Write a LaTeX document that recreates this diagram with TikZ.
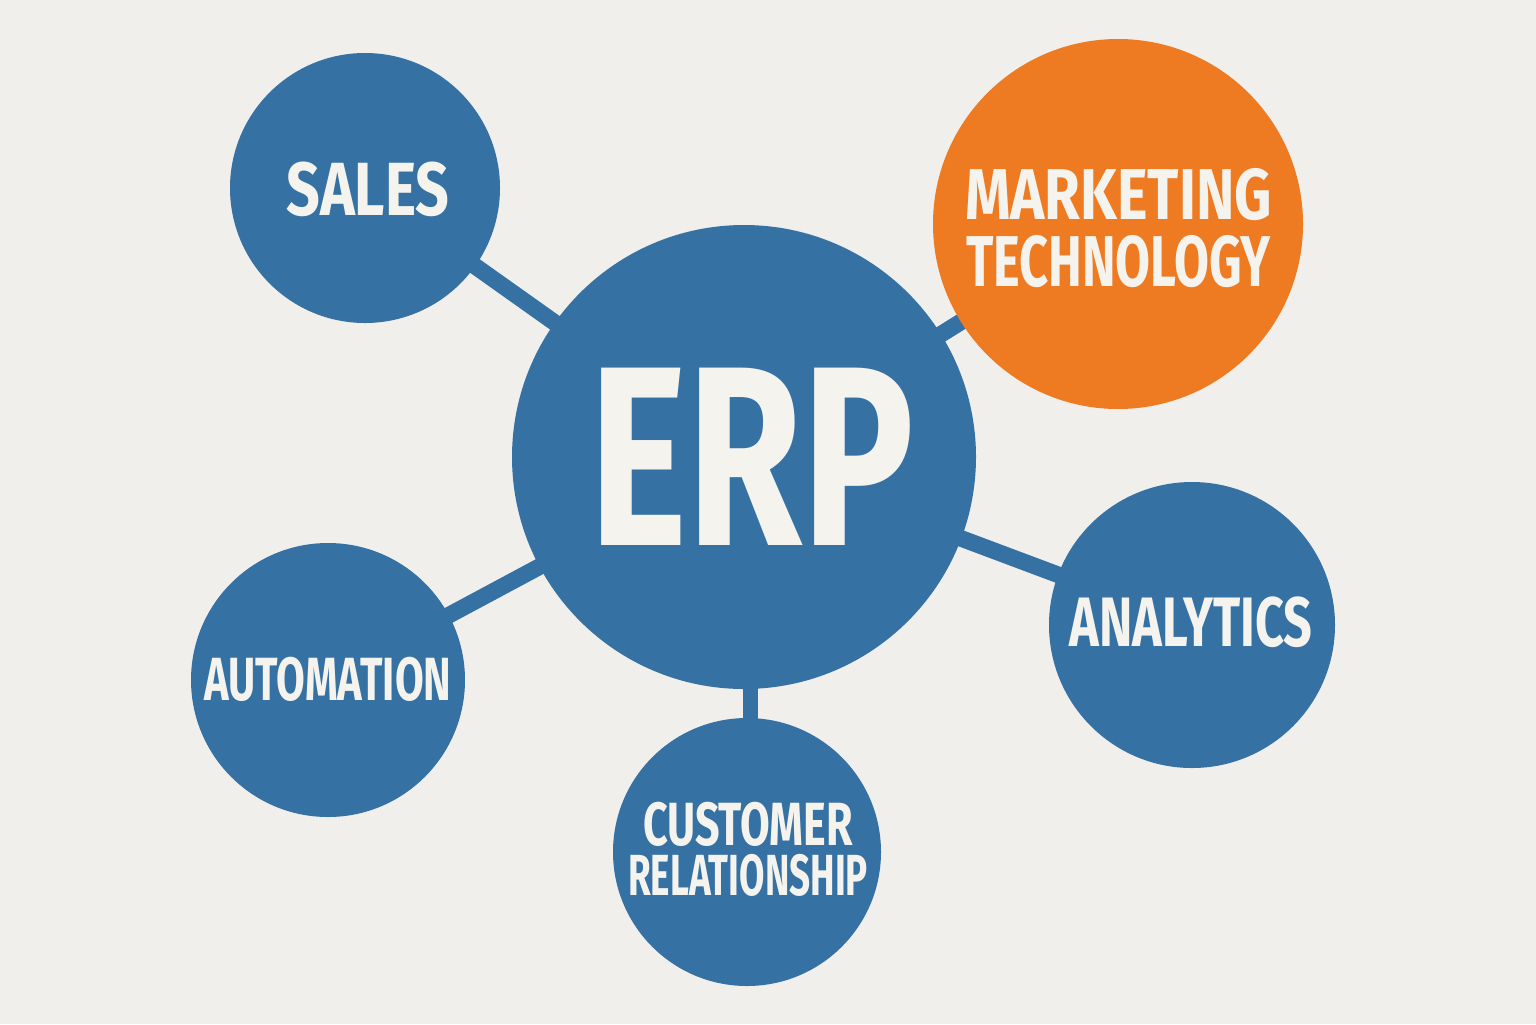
\documentclass[tikz,border=0pt]{standalone}
\usepackage{fontspec}
\usepackage{graphicx}
\newfontfamily\labfont{Fira Sans Bold}
\definecolor{bg}{HTML}{F0EFEC}
\definecolor{erpblue}{HTML}{3671A4}
\definecolor{erporange}{HTML}{EE7A22}
\definecolor{txt}{HTML}{F5F3EE}
% fit a word to a given width, keeping its height
\newcommand{\fitword}[3]{{\labfont\fontsize{#1}{#1}\selectfont\resizebox{#2}{\height}{#3}}}
\tikzset{
  hub/.style={circle, fill=erpblue, inner sep=0pt},
  hubor/.style={hub, fill=erporange},
  link/.style={draw=erpblue, line width=8.3pt},
  lbl/.style={text=txt, inner sep=0pt, anchor=base},
  lbltwo/.style={text=txt, inner sep=0pt, anchor=center, align=center},
}
\begin{document}
\begin{tikzpicture}[x=0.5pt, y=-0.5pt]
\fill[bg] (0,0) rectangle (1536,1024);
\useasboundingbox (0,0) rectangle (1536,1024);
% centres
\coordinate (erpc) at (744,457);
\coordinate (salesc) at (365,188);
\coordinate (mktc) at (1118,224);
\coordinate (anac) at (1192,625);
\coordinate (autoc) at (328,680);
\coordinate (crmc) at (750,852);
% connectors
\draw[link] (salesc) -- (erpc);
\draw[link] (mktc) -- (erpc);
\draw[link] (anac) -- (erpc);
\draw[link] (autoc) -- (erpc);
\draw[link, line width=7.5pt] (crmc) -- (crmc |- erpc);
% circles
\node[hub, minimum size=232pt] (erp) at (erpc) {};
\node[hub, minimum size=135pt] (sales) at (salesc) {};
\node[hubor, minimum size=185pt] (mkt) at (mktc) {};
\node[hub, minimum size=143pt] (ana) at (anac) {};
\node[hub, minimum size=137pt] (auto) at (autoc) {};
\node[hub, minimum size=134pt] (crm) at (747,852) {};
% labels
\node[lbl] (erpt) at (752,545) {\fitword{128pt}{162.5pt}{ERP}};
\node[lbl] (salest) at (368,215) {\fitword{37.7pt}{81.5pt}{SALES}};
\node[lbltwo, font=\fontsize{33.5pt}{33.5pt}\selectfont] (mktt) at (1118.5,228.5)
  {\fitword{36pt}{153.5pt}{MARKETING}\\\fitword{36pt}{152.5pt}{TECHNOLOGY}};
\node[lbl] (anat) at (1191,646) {\fitword{35pt}{121.5pt}{ANALYTICS}};
\node[lbl] (autot) at (328,700) {\fitword{30.5pt}{123.5pt}{AUTOMATION}};
\node[lbltwo, font=\fontsize{25pt}{25pt}\selectfont] (crmt) at (748,849)
  {\fitword{30.5pt}{105pt}{CUSTOMER}\\\fitword{29pt}{120pt}{RELATIONSHIP}};
\end{tikzpicture}
\end{document}
